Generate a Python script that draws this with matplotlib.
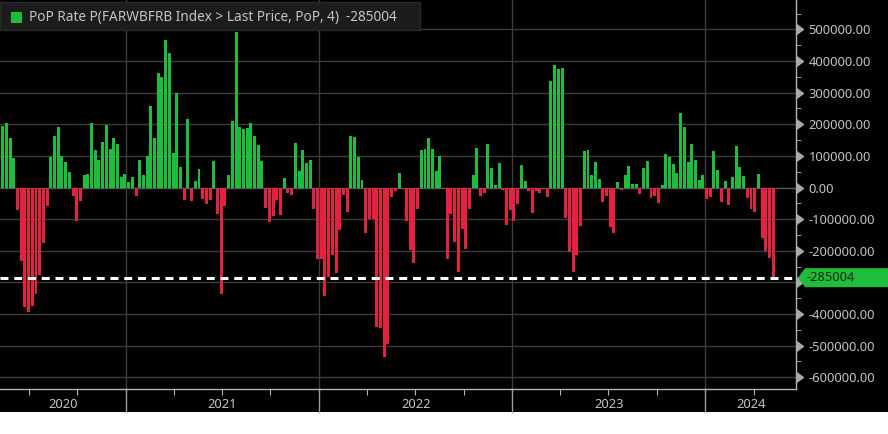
import numpy as np
import pandas as pd
import matplotlib.pyplot as plt
import matplotlib.dates as mdates
from matplotlib.patches import Polygon, Rectangle
from matplotlib.ticker import MultipleLocator, FormatStrFormatter

plt.rcParams['font.family'] = ['Noto Sans', 'DejaVu Sans']
plt.rcParams['axes.unicode_minus'] = False

# weekly PoP change (4 periods), in thousands
values_k = [
    194, 203, 156, 93, -72, -232, -377, -393, -374, -337, -277, -175, -58, 96, 163, 191, 100, 80,
    48, -26, -106, -43, 39, 43, 203, 118, 86, 143, 197, 121, 156, 137, 33, 43, 17, 33,
    -26, 86, 39, 99, 257, 156, 361, 349, 466, 425, 109, 298, 64, -40, 216, -43, 20, 58,
    -37, -53, -40, 83, -84, -337, -59, 39, 210, 491, 191, 184, 188, 203, 162, 134, 83,
    -65, -110, -91, -40, -87, 30, -18, -24, 140, 52, 118, 77, 86, -68, -227, -227, -342, -282,
    -214, -270, -135, -24, -78, 162, 159, 96, 23, -144, -100, -100, -440, -444, -535, -494, -31,
    -12, 45, -5, -106, -198, -239, -68, 118, 121, 156, 121, 52, 99, -5, -227, -84, -173, -268,
    -132, -195, -68, 39, 124, -27, -18, 137, 61, 7, 77, -8, -119, -72, -106, -53, 71,
    20, -12, -81, -12, -18, -5, -31, 336, 387, 374, 377, -97, -204, -268, -214, -122, 115, 118,
    39, 80, 26, -46, -27, -125, -144, 17, -8, 39, 67, 11, 11, -21, 61, 83, -34,
    -27, -50, 7, 105, 96, 74, 45, 235, 191, 80, 137, 86, 23, 39, -37, -31, 115, 55,
    -46, 20, -56, 33, 131, 64, 36, -34, -68, -78, 42, -160, -201, -223,
]
last_value = -285004
values = np.array(values_k + [last_value / 1000.0]) * 1000.0
dates = pd.date_range(end='2024-05-08', periods=len(values), freq='7D')
years = [2020, 2021, 2022, 2023, 2024]
y_ticks = np.arange(-600000, 500001, 100000)
legend_label = 'PoP Rate P(FARWBFRB Index > Last Price, PoP, 4)  %d' % last_value

green = '#1fbd3c'
red = '#e8203f'
text_c = '#c4c4c4'
grid_c = '#3c3c3c'
axis_c = '#b4b4b4'

W, H = 796.0, 389.0  # axes size in pixels

fig = plt.figure(figsize=(8.88, 4.34), dpi=100)
fig.patch.set_facecolor('white')
# black panel down to the year band
fig.patches.append(Rectangle((0, 22 / 434), 1, 1, transform=fig.transFigure,
                             facecolor='black', edgecolor='none', zorder=-10))
ax = fig.add_axes([0, 45 / 434, W / 888, H / 434])
ax.set_facecolor('black')

colors = [green if v >= 0 else red for v in values]
ax.bar(dates, values, width=5.6, color=colors, zorder=3)

ax.set_xlim(pd.Timestamp('2020-05-08'), pd.Timestamp('2024-06-20'))
ax.set_ylim(-637000, 593000)

# grid
for t in y_ticks:
    ax.axhline(t, color='#5a5a5a' if t == 0 else grid_c, lw=1, zorder=1)
for yr in years[1:]:
    x = mdates.date2num(pd.Timestamp('%d-01-01' % yr))
    ax.axvline(x, color=grid_c, lw=1, zorder=1)
    ax.plot([x, x], [0, -23 / H], transform=ax.get_xaxis_transform(),
            color='#9a9a9a', lw=1, clip_on=False)

# year labels centred in the visible part of each year
x0, x1 = ax.get_xlim()
for yr in years:
    a = max(x0, mdates.date2num(pd.Timestamp('%d-01-01' % yr)))
    b = min(x1, mdates.date2num(pd.Timestamp('%d-01-01' % (yr + 1))))
    ax.text((a + b) / 2, -15 / H, str(yr), transform=ax.get_xaxis_transform(),
            ha='center', va='center', color=text_c, fontsize=9.3)

# spines
for s in ['left', 'top']:
    ax.spines[s].set_visible(False)
for s in ['right', 'bottom']:
    ax.spines[s].set_color(axis_c)
    ax.spines[s].set_linewidth(1)

ax.xaxis.set_major_locator(mdates.MonthLocator(bymonth=[1, 4, 7, 10]))
ax.xaxis.set_major_formatter(plt.NullFormatter())
ax.tick_params(axis='x', which='major', length=4, color=axis_c, direction='out')

ax.yaxis.tick_right()
ax.set_yticks(y_ticks)
ax.set_yticklabels(['' if t == -300000 else '%.2f' % t for t in y_ticks])
ax.yaxis.set_minor_locator(MultipleLocator(50000))
ax.tick_params(axis='y', which='major', length=0, pad=9, labelcolor=text_c, labelsize=9.3)
ax.tick_params(axis='y', which='minor', length=3.5, color=axis_c, direction='out')
ax.plot(np.ones(len(y_ticks)), y_ticks, transform=ax.get_yaxis_transform(),
        ls='none', marker=9, markersize=6.5, color='#a8a8a8', clip_on=False, zorder=5)

# last value line and tag
ax.axhline(last_value, color='white', lw=2.2, ls=(0, (2.6, 1.9)), zorder=4)
h = 30000
tag = Polygon([(1.0025, last_value), (1.0115, last_value + h), (1.2, last_value + h),
               (1.2, last_value - h), (1.0115, last_value - h)],
              closed=True, transform=ax.get_yaxis_transform(), facecolor=green,
              edgecolor='none', clip_on=False, zorder=6)
ax.add_patch(tag)
ax.text(1.0135, last_value, '%d' % last_value, transform=ax.get_yaxis_transform(),
        ha='left', va='center', color='#0c2a10', fontsize=9.3, zorder=7)

# legend header box
ax.add_patch(Rectangle((0, 1 - 30 / H), 420 / W, 28 / H, transform=ax.transAxes,
                       facecolor='#1c1c1c', edgecolor='#2a2a2a', lw=1, zorder=8))
ax.add_patch(Rectangle((11 / W, 1 - 23 / H), 11 / W, 11 / H, transform=ax.transAxes,
                       facecolor=green, edgecolor='none', zorder=9))
ax.text(28.5 / W, 1 - 17.5 / H, legend_label, transform=ax.transAxes, ha='left',
        va='center', color=text_c, fontsize=9.8, zorder=9)

fig.savefig('out.png', dpi=100, facecolor=fig.get_facecolor())
